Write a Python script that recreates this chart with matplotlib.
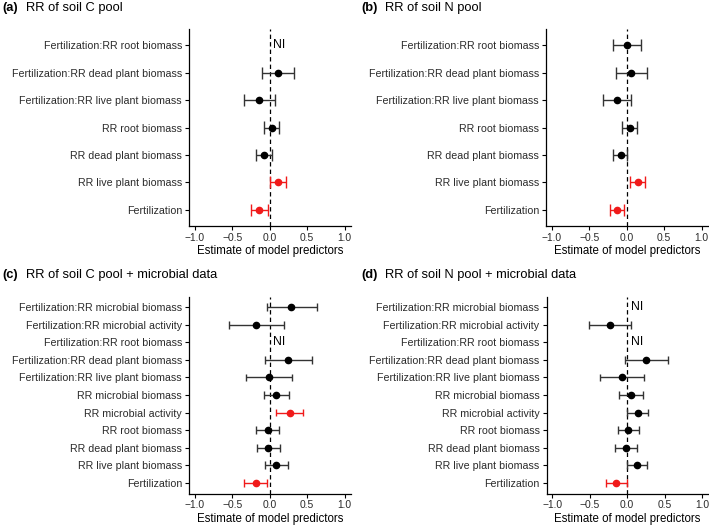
import matplotlib
matplotlib.use("Agg")
import matplotlib.pyplot as plt
import numpy as np

plt.rcParams['font.family'] = ['Liberation Sans', 'DejaVu Sans']

# ---------------- data (listed top-to-bottom as displayed) ----------------
labels_ab = ["Fertilization:RR root biomass",
             "Fertilization:RR dead plant biomass",
             "Fertilization:RR live plant biomass",
             "RR root biomass",
             "RR dead plant biomass",
             "RR live plant biomass",
             "Fertilization"]

labels_cd = ["Fertilization:RR microbial biomass",
             "Fertilization:RR microbial activity",
             "Fertilization:RR root biomass",
             "Fertilization:RR dead plant biomass",
             "Fertilization:RR live plant biomass",
             "RR microbial biomass",
             "RR microbial activity",
             "RR root biomass",
             "RR dead plant biomass",
             "RR live plant biomass",
             "Fertilization"]

# None = not included (NI)
est_a = [None, 0.11, -0.14, 0.03, -0.08, 0.11, -0.14]
lo_a  = [None, -0.10, -0.34, -0.08, -0.19, 0.00, -0.25]
hi_a  = [None, 0.33, 0.07, 0.13, 0.03, 0.22, -0.03]
sig_a = [False, False, False, False, False, True, True]

est_b = [0.00, 0.06, -0.13, 0.04, -0.08, 0.15, -0.13]
lo_b  = [-0.19, -0.14, -0.32, -0.06, -0.18, 0.05, -0.22]
hi_b  = [0.19, 0.27, 0.06, 0.14, 0.01, 0.24, -0.04]
sig_b = [False, False, False, False, False, True, True]

est_c = [0.29, -0.18, None, 0.25, -0.01, 0.08, 0.27, -0.03, -0.02, 0.09, -0.19]
lo_c  = [-0.04, -0.54, None, -0.07, -0.32, -0.08, 0.09, -0.19, -0.17, -0.07, -0.34]
hi_c  = [0.63, 0.19, None, 0.56, 0.30, 0.26, 0.44, 0.13, 0.14, 0.25, -0.04]
sig_c = [False, False, False, False, False, False, True, False, False, False, True]

est_d = [None, -0.23, None, 0.25, -0.07, 0.05, 0.14, 0.01, -0.02, 0.13, -0.15]
lo_d  = [None, -0.51, None, -0.03, -0.37, -0.11, 0.00, -0.13, -0.17, -0.01, -0.29]
hi_d  = [None, 0.05, None, 0.54, 0.23, 0.21, 0.28, 0.16, 0.13, 0.27, 0.00]
sig_d = [False, False, False, False, False, False, False, False, False, False, True]

titles = ["RR of soil C pool", "RR of soil N pool",
          "RR of soil C pool + microbial data", "RR of soil N pool + microbial data"]
tags = ["(a)", "(b)", "(c)", "(d)"]
xticks = [-1.0, -0.5, 0.0, 0.5, 1.0]
xticklabels = ["\u22121.0", "\u22120.5", "0.0", "0.5", "1.0"]

W, H = 709, 528
fig = plt.figure(figsize=(W / 100, H / 100), dpi=100)

# axes boxes in pixels: left, top, right, bottom
boxes = [(189, 29, 350.5, 226),
         (546, 29, 707.5, 226),
         (189, 296.5, 350.5, 493.5),
         (546.5, 296.5, 708, 493.5)]

panels = [(labels_ab, est_a, lo_a, hi_a, sig_a),
          (labels_ab, est_b, lo_b, hi_b, sig_b),
          (labels_cd, est_c, lo_c, hi_c, sig_c),
          (labels_cd, est_d, lo_d, hi_d, sig_d)]

tick_col = "#2b2b2b"
bar_col = "#333333"
red = "#F01A1A"

for k, ((labels, est, lo, hi, sig), (l, t, r, b)) in enumerate(zip(panels, boxes)):
    ax = fig.add_axes([l / W, 1 - b / H, (r - l) / W, (b - t) / H])
    n = len(labels)
    ys = np.arange(n)[::-1] + 1  # top row gets highest y
    ax.axvline(0, color="black", lw=0.9, ls=(0, (3.5, 2.5)), zorder=1)
    for y, e, a0, a1, s in zip(ys, est, lo, hi, sig):
        if e is None:
            ax.text(0.05, y, "NI", ha="left", va="center", fontsize=8.8,
                    color="black")
            continue
        c = red if s else bar_col
        pc = red if s else "black"
        ax.hlines(y, a0, a1, color=c, lw=1.0, zorder=2)
        ax.vlines([a0, a1], y - 0.22, y + 0.22, color=c, lw=1.0, zorder=2)
        ax.plot([e], [y], "o", color=pc, ms=4.5, zorder=3)
    ax.set_ylim(0.4, n + 0.6)
    ax.set_xlim(-1.08, 1.08)
    ax.set_yticks(ys)
    ax.set_yticklabels(labels, fontsize=7.65, color=tick_col)
    ax.set_xticks(xticks)
    ax.set_xticklabels(xticklabels, fontsize=7.4, color=tick_col)
    ax.set_xlabel("Estimate of model predictors", fontsize=8.3, labelpad=1.5)
    for sp in ["top", "right"]:
        ax.spines[sp].set_visible(False)
    for sp in ["left", "bottom"]:
        ax.spines[sp].set_linewidth(0.9)
    ax.tick_params(length=3, width=0.8, pad=2)

    # panel title
    tx = 2 if k % 2 == 0 else 361
    ty = 8 if k < 2 else 275
    fig.text(tx / W, 1 - ty / H, tags[k], fontsize=9.3, fontweight="bold",
             ha="left", va="center")
    fig.text((tx + 24) / W, 1 - ty / H, titles[k], fontsize=9.3,
             ha="left", va="center")

fig.savefig("out.png", dpi=100)
